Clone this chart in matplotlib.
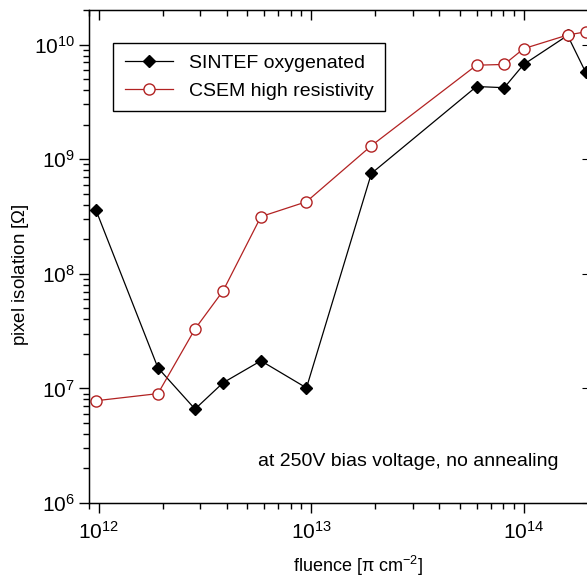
import matplotlib
matplotlib.use("Agg")
import matplotlib.pyplot as plt
from matplotlib.ticker import LogLocator, NullFormatter

plt.rcParams["font.family"] = ["Liberation Sans", "DejaVu Sans"]
plt.rcParams["mathtext.fontset"] = "custom"
plt.rcParams["mathtext.rm"] = "Liberation Sans"
plt.rcParams["mathtext.it"] = "Liberation Sans"

# fluence [pi cm^-2]
fluence = [0.97e12, 1.9e12, 2.84e12, 3.85e12, 5.8e12, 9.5e12,
           1.92e13, 6.0e13, 8.1e13, 1.0e14, 1.61e14, 1.96e14]
# pixel isolation [Ohm]
sintef = [3.6e8, 1.51e7, 6.6e6, 1.12e7, 1.74e7, 1.01e7,
          7.5e8, 4.3e9, 4.2e9, 6.7e9, 1.2e10, 5.7e9]
csem = [7.8e6, 9.0e6, 3.3e7, 7.1e7, 3.15e8, 4.25e8,
        1.31e9, 6.6e9, 6.7e9, 9.2e9, 1.21e10, 1.29e10]

fig = plt.figure(figsize=(5.87, 5.77), dpi=100)
ax = fig.add_axes([89 / 587, 1 - 503 / 577, 500 / 587, 493 / 577])

ax.plot(fluence, sintef, "-", color="black", lw=0.9, marker="D", ms=6.5,
        mfc="black", mec="black", label="SINTEF oxygenated")
ax.plot(fluence, csem, "-", color="#b22222", lw=0.9, marker="o", ms=8,
        mfc="white", mec="#b22222", mew=1.0, label="CSEM high resistivity")

ax.set_xscale("log")
ax.set_yscale("log")
ax.set_xlim(9e11, 2.03e14)
ax.set_ylim(1e6, 2e10)

ax.xaxis.set_major_locator(LogLocator(base=10, numticks=10))
ax.xaxis.set_minor_locator(LogLocator(base=10, subs=range(2, 10), numticks=20))
ax.yaxis.set_major_locator(LogLocator(base=10, numticks=10))
ax.yaxis.set_minor_locator(LogLocator(base=10, subs=range(2, 10), numticks=20))
ax.xaxis.set_minor_formatter(NullFormatter())
ax.yaxis.set_minor_formatter(NullFormatter())

ax.tick_params(axis="both", which="major", labelsize=15, length=7, width=1)
ax.tick_params(axis="both", which="minor", length=4, width=1)
ax.tick_params(axis="x", which="both", direction="out", top=True, pad=6)
ax.tick_params(axis="y", which="both", direction="out", pad=3)
for s in ax.spines.values():
    s.set_linewidth(1.0)

# top ticks point inward
for t in ax.xaxis.get_major_ticks() + ax.xaxis.get_minor_ticks():
    t.tick2line.set_marker(matplotlib.lines.TICKDOWN)

# right side: major ticks inward only
axr = ax.twinx()
axr.set_yscale("log")
axr.set_ylim(ax.get_ylim())
axr.yaxis.set_major_locator(LogLocator(base=10, numticks=10))
axr.yaxis.set_minor_locator(LogLocator(base=10, subs=[], numticks=10))
axr.tick_params(axis="y", which="major", direction="in", length=5, labelright=False)
axr.spines["right"].set_linewidth(1.0)

ax.set_xlabel(r"fluence [$\pi$ cm$^{-2}$]", fontsize=13)
ax.set_ylabel(r"pixel isolation [$\Omega$]", fontsize=13.5)
ax.xaxis.set_label_coords(0.538, -0.104)
ax.yaxis.set_label_coords(-0.115, 0.464)

ax.text(0.94, 0.085, "at 250V bias voltage, no annealing", transform=ax.transAxes,
        fontsize=14, ha="right", va="center")

leg = ax.legend(loc="upper left", bbox_to_anchor=(24 / 500, 1 - 33 / 493), fontsize=14,
                frameon=True, fancybox=False, edgecolor="black", framealpha=1,
                borderpad=0.6, handlelength=2.5, labelspacing=0.5, borderaxespad=0)
leg.get_frame().set_linewidth(1.0)

fig.savefig("out.png", dpi=100)
